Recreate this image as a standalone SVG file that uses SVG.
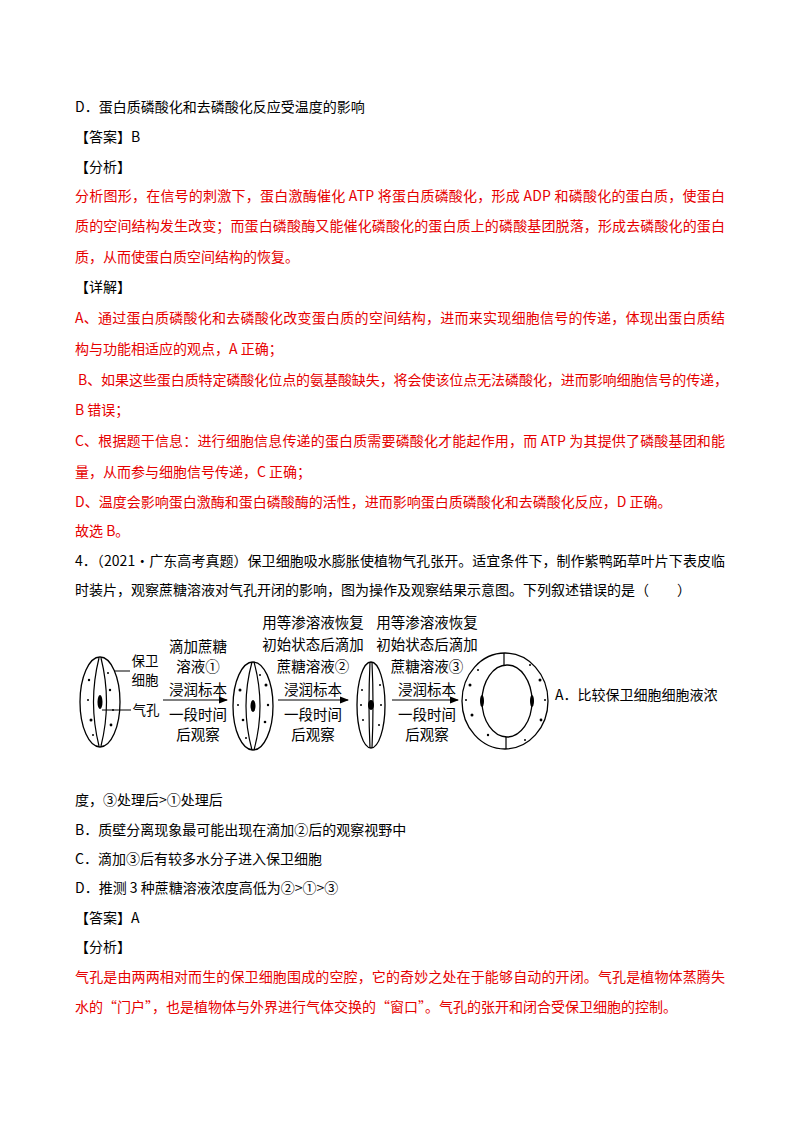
<svg xmlns="http://www.w3.org/2000/svg" width="800" height="1132" viewBox="0 0 800 1132">
<style>
text{font-family:"Noto Sans CJK SC","Liberation Serif",serif;font-size:14px;fill:#000}
.r{fill:#e60000}
.f{font-size:14.5px;text-anchor:middle}
.s{font-size:13.5px;text-anchor:middle}
.c{fill:#fff;stroke:#000;stroke-width:1.3}
.l{stroke:#000;stroke-width:1.2;fill:none}
.d{fill:#000}
</style>
<defs>
<marker id="a" markerWidth="8" markerHeight="6" refX="7" refY="3" orient="auto"><path d="M0,0L8,3L0,6z"/></marker>
</defs>
<rect width="800" height="1132" fill="#fff"/>
<text x="75" y="112">D．蛋白质磷酸化和去磷酸化反应受温度的影响</text>
<text x="75" y="142">【答案】B</text>
<text x="75" y="172">【分析】</text>
<text class="r" x="75" y="201" textLength="650">分析图形，在信号的刺激下，蛋白激酶催化 ATP 将蛋白质磷酸化，形成 ADP 和磷酸化的蛋白质，使蛋白</text>
<text class="r" x="75" y="231" textLength="650">质的空间结构发生改变；而蛋白磷酸酶又能催化磷酸化的蛋白质上的磷酸基团脱落，形成去磷酸化的蛋白</text>
<text class="r" x="75" y="262">质，从而使蛋白质空间结构的恢复。</text>
<text x="75" y="292">【详解】</text>
<text class="r" x="75" y="323" textLength="650">A、通过蛋白质磷酸化和去磷酸化改变蛋白质的空间结构，进而来实现细胞信号的传递，体现出蛋白质结</text>
<text class="r" x="75" y="354">构与功能相适应的观点，A 正确；</text>
<text class="r" x="78" y="385" textLength="650">B、如果这些蛋白质特定磷酸化位点的氨基酸缺失，将会使该位点无法磷酸化，进而影响细胞信号的传递，</text>
<text class="r" x="75" y="415">B 错误；</text>
<text class="r" x="75" y="446" textLength="650">C、根据题干信息：进行细胞信息传递的蛋白质需要磷酸化才能起作用，而 ATP 为其提供了磷酸基团和能</text>
<text class="r" x="75" y="477">量，从而参与细胞信号传递，C 正确；</text>
<text class="r" x="75" y="507">D、温度会影响蛋白激酶和蛋白磷酸酶的活性，进而影响蛋白质磷酸化和去磷酸化反应，D 正确。</text>
<text class="r" x="75" y="536">故选 B。</text>
<text x="75" y="566" textLength="650">4．（2021·广东高考真题）保卫细胞吸水膨胀使植物气孔张开。适宜条件下，制作紫鸭跖草叶片下表皮临</text>
<text x="75" y="595">时装片，观察蔗糖溶液对气孔开闭的影响，图为操作及观察结果示意图。下列叙述错误的是（　　）</text>
<g id="cell1">
<ellipse class="c" cx="100" cy="702" rx="20" ry="45"/>
<path class="l" d="M99,658 Q88,702 99,746 M101,658 Q112,702 101,746"/>
<ellipse class="d" cx="100" cy="702" rx="2.5" ry="7"/>
<g class="d"><circle cx="89" cy="680" r="1.2"/><circle cx="91" cy="720" r="1.5"/><circle cx="110" cy="690" r="1.2"/><circle cx="111" cy="725" r="1.4"/><circle cx="88" cy="700" r="1"/><circle cx="113" cy="710" r="1"/><circle cx="108" cy="673" r="1"/><circle cx="93" cy="735" r="1"/></g>
</g>
<g id="label1">
<text class="s" x="145" y="666">保卫</text>
<text class="s" x="145" y="685">细胞</text>
<text class="s" x="146" y="715">气孔</text>
<path class="l" d="M130,671 L114,671 M131,710 L102,710"/>
</g>
<g id="step1">
<text class="f" x="198" y="652">滴加蔗糖</text>
<text class="f" x="198" y="672">溶液①</text>
<text class="f" x="198" y="695">浸润标本</text>
<text class="f" x="198" y="720">一段时间</text>
<text class="f" x="198" y="740">后观察</text>
</g>
<g id="cell2">
<ellipse class="c" cx="253" cy="706" rx="20" ry="44"/>
<path class="l" d="M252,662 Q240,706 252,750 M254,662 Q266,706 254,750"/>
<ellipse class="d" cx="253" cy="706" rx="2.5" ry="6"/>
<g class="d"><circle cx="240" cy="690" r="1.5"/><circle cx="243" cy="720" r="1.3"/><circle cx="266" cy="685" r="1.5"/><circle cx="265" cy="722" r="1.3"/><circle cx="238" cy="705" r="1"/><circle cx="268" cy="705" r="1.2"/><circle cx="260" cy="675" r="1"/><circle cx="246" cy="738" r="1"/></g>
</g>
<g id="step2">
<text class="f" x="313" y="628">用等渗溶液恢复</text>
<text class="f" x="313" y="650">初始状态后滴加</text>
<text class="f" x="313" y="672">蔗糖溶液②</text>
<text class="f" x="313" y="695">浸润标本</text>
<text class="f" x="313" y="720">一段时间</text>
<text class="f" x="313" y="740">后观察</text>
</g>
<g id="cell3">
<ellipse class="c" cx="371" cy="705" rx="14" ry="43"/>
<path class="l" d="M370,662 Q368,705 370,748 M372,662 Q374,705 372,748"/>
<ellipse class="d" cx="371" cy="705" rx="3" ry="5"/>
<g class="d"><circle cx="362" cy="690" r="1"/><circle cx="363" cy="720" r="1"/><circle cx="380" cy="685" r="1"/><circle cx="379" cy="725" r="1"/><circle cx="361" cy="705" r="1"/><circle cx="381" cy="705" r="1"/></g>
</g>
<g id="step3">
<text class="f" x="427" y="628">用等渗溶液恢复</text>
<text class="f" x="427" y="650">初始状态后滴加</text>
<text class="f" x="427" y="672">蔗糖溶液③</text>
<text class="f" x="427" y="695">浸润标本</text>
<text class="f" x="427" y="720">一段时间</text>
<text class="f" x="427" y="740">后观察</text>
</g>
<g id="cell4">
<ellipse class="c" cx="505" cy="701" rx="43" ry="48"/>
<ellipse class="c" cx="507" cy="701" rx="25" ry="36"/>
<path class="l" d="M504,653 L504,665 M506,737 L506,749"/>
<ellipse class="d" cx="482" cy="701" rx="2" ry="6"/>
<ellipse class="d" cx="532" cy="701" rx="2" ry="6"/>
<g class="d"><circle cx="470" cy="685" r="1.5"/><circle cx="472" cy="715" r="1.5"/><circle cx="478" cy="670" r="1"/><circle cx="540" cy="680" r="1.5"/><circle cx="541" cy="720" r="1.4"/><circle cx="530" cy="665" r="1"/><circle cx="488" cy="735" r="1.2"/><circle cx="525" cy="740" r="1"/><circle cx="466" cy="700" r="1"/><circle cx="545" cy="700" r="1"/></g>
</g>
<g id="connectors">
<line class="l" x1="163" y1="700" x2="227" y2="700" marker-end="url(#a)"/>
<line class="l" x1="278" y1="700" x2="348" y2="700" marker-end="url(#a)"/>
<line class="l" x1="392" y1="700" x2="458" y2="700" marker-end="url(#a)"/>
</g>
<text x="555" y="700">A．比较保卫细胞细胞液浓</text>
<text x="75" y="805">度，③处理后&gt;①处理后</text>
<text x="75" y="835">B．质壁分离现象最可能出现在滴加②后的观察视野中</text>
<text x="75" y="864">C．滴加③后有较多水分子进入保卫细胞</text>
<text x="75" y="893">D．推测 3 种蔗糖溶液浓度高低为②&gt;①&gt;③</text>
<text x="75" y="923">【答案】A</text>
<text x="75" y="952">【分析】</text>
<text class="r" x="75" y="982" textLength="650">气孔是由两两相对而生的保卫细胞围成的空腔，它的奇妙之处在于能够自动的开闭。气孔是植物体蒸腾失</text>
<text class="r" x="75" y="1012">水的“门户”，也是植物体与外界进行气体交换的“窗口”。气孔的张开和闭合受保卫细胞的控制。</text>
</svg>
